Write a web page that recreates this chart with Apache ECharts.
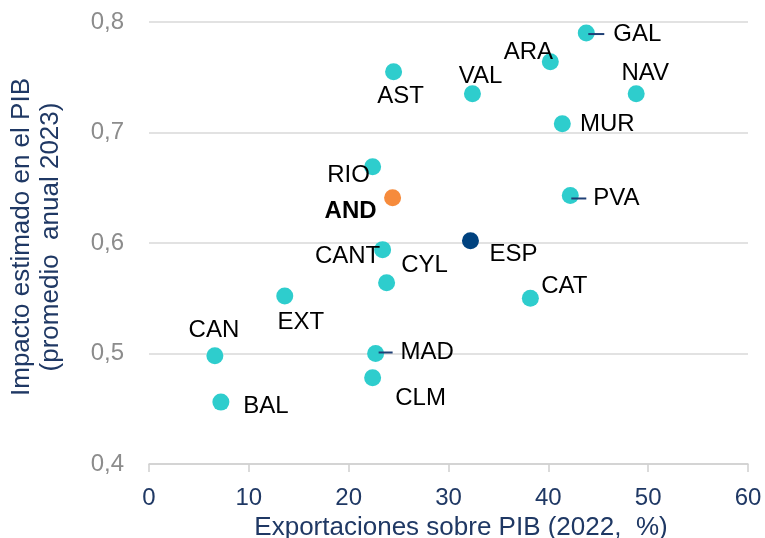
<!DOCTYPE html>
<html>
<head>
<meta charset="utf-8">
<script src="https://cdn.jsdelivr.net/npm/echarts@6/dist/echarts.min.js"></script>
<style>html,body{margin:0;padding:0;background:#fff}#c{width:765px;height:538px}</style>
</head>
<body>
<div id="c"></div>
<script>
// ---- data ----
const regions = ['GAL','ARA','AST','VAL','NAV','MUR','RIO','AND','PVA','ESP','CANT','CYL','EXT','CAT','CAN','MAD','CLM','BAL'];
const exportsPct = [43.8, 40.2, 24.5, 32.4, 48.8, 41.4, 22.4, 24.4, 42.2, 32.2, 23.4, 23.8, 13.6, 38.2, 6.6, 22.7, 22.4, 7.2];
const impact = [0.790, 0.764, 0.755, 0.735, 0.735, 0.708, 0.669, 0.641, 0.643, 0.602, 0.594, 0.564, 0.552, 0.550, 0.498, 0.500, 0.478, 0.456];
const xTicks = [0, 10, 20, 30, 40, 50, 60];
const yTicks = [0.4, 0.5, 0.6, 0.7, 0.8];

// ---- styling (not data) ----
const TEAL = '#2ECDCD', ORANGE = '#F68B3C', NAVY_PT = '#00427F', LEADER = '#1F3F75';
const colorFor = { AND: ORANGE, ESP: NAVY_PT };
const labelOffset = {
  GAL: [2, 1], ARA: [-22, -9], AST: [7, 25], VAL: [8, -17], NAV: [9, -20],
  MUR: [45, 1], RIO: [-24, 9], AND: [-42, 14], PVA: [1, 3], ESP: [43, 14],
  CANT: [-35, 7], CYL: [38, -17], EXT: [16, 26], CAT: [34, -12], CAN: [-1, -25],
  MAD: [3, -1], CLM: [48, 21], BAL: [45, 4]
};
// leader line length and gap to text, for labels drawn with a short leader
const leader = { GAL: [16, 9], PVA: [15, 7], MAD: [14, 8] };

const data = regions.map((r, i) => {
  const item = {
    name: r,
    value: [exportsPct[i], impact[i]],
    itemStyle: { color: colorFor[r] || TEAL, opacity: 1 },
    label: {
      offset: labelOffset[r],
      fontWeight: r === 'AND' ? 'bold' : 'normal'
    }
  };
  if (leader[r]) {
    item.label.align = 'left';
    item.label.formatter = '{ln|}{t|' + r + '}';
    item.label.rich = {
      ln: { width: leader[r][0], height: 2, backgroundColor: LEADER, verticalAlign: 'middle' },
      t: { fontSize: 24, color: '#000', padding: [0, 0, 0, leader[r][1]], verticalAlign: 'middle' }
    };
  }
  return item;
});

const chart = echarts.init(document.getElementById('c'));
chart.setOption({
  animation: false,
  textStyle: { fontFamily: 'Liberation Sans, Arial, sans-serif' },
  grid: { left: 149, right: 17, top: 22, bottom: 74, outerBoundsMode: 'none', containLabel: false },
  xAxis: {
    type: 'value', min: xTicks[0], max: xTicks[xTicks.length - 1], interval: 10,
    name: 'Exportaciones sobre PIB (2022,  %)',
    nameLocation: 'middle', nameGap: 49,
    nameTextStyle: { fontSize: 26, color: '#1F3864', padding: [0, 0, 0, 25] },
    axisLine: { show: true, lineStyle: { color: '#D0D0D0', width: 1.5 } },
    axisTick: { show: true, length: 8, lineStyle: { color: '#D0D0D0', width: 1.5 } },
    axisLabel: { fontSize: 24, color: '#1F3864', margin: 22 },
    splitLine: { show: false }
  },
  yAxis: {
    type: 'value', min: yTicks[0], max: yTicks[yTicks.length - 1], interval: 0.1,
    name: 'Impacto estimado en el PIB\n(promedio  anual 2023)',
    nameLocation: 'middle', nameGap: 84, nameRotate: 90,
    nameTextStyle: { fontSize: 26, color: '#1F3864', lineHeight: 29, padding: [0, 0, 0, 12] },
    axisLine: { show: false },
    axisTick: { show: false },
    axisLabel: {
      fontSize: 24, color: '#8C8C8C', margin: 25,
      formatter: v => v.toFixed(1).replace('.', ',')
    },
    splitLine: { show: true, lineStyle: { color: '#D9D9D9', width: 1.5 } }
  },
  series: [{
    type: 'scatter',
    symbolSize: 17,
    data: data,
    label: {
      show: true, position: 'inside', formatter: '{b}',
      fontSize: 24, color: '#000', align: 'center', verticalAlign: 'middle'
    },
    emphasis: { disabled: true }
  }]
});
</script>
</body>
</html>
